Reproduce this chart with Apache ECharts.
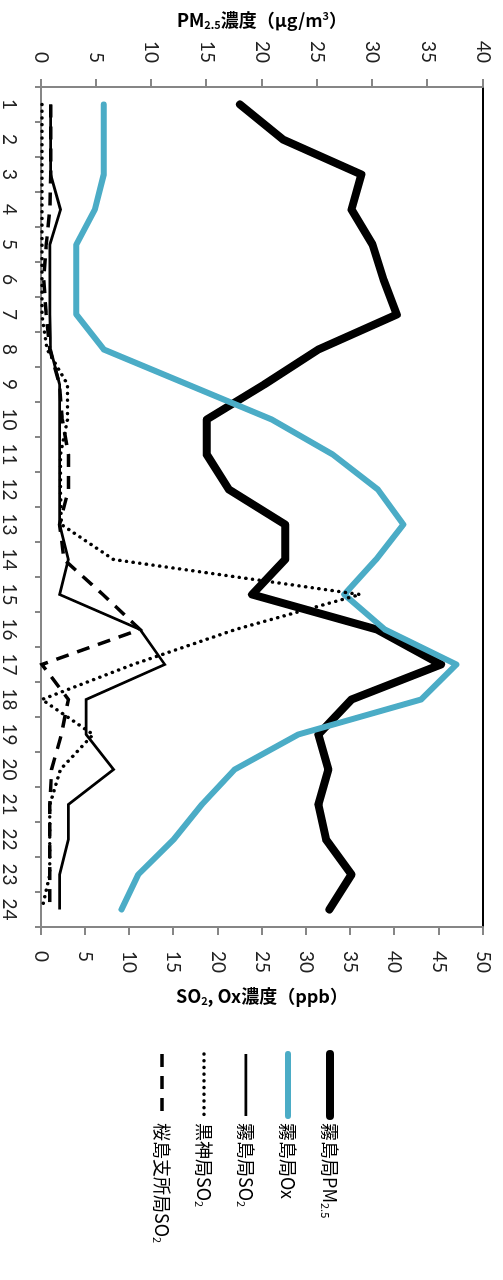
<!DOCTYPE html>
<html>
<head>
<meta charset="utf-8">
<script src="https://cdn.jsdelivr.net/npm/echarts@6/dist/echarts.min.js"></script>
<style>
  html, body { margin: 0; padding: 0; width: 503px; height: 1280px; overflow: hidden; background: #fff; }
  /* chart is laid out landscape (1280 x 503) and turned a quarter-turn clockwise */
  #chart { position: absolute; left: 0; top: 0; width: 1280px; height: 503px;
           transform-origin: 0 0; transform: translate(503px, 0) rotate(90deg); }
</style>
</head>
<body>
<div id="chart"></div>
<script>
// hour of day
const hours = ['1','2','3','4','5','6','7','8','9','10','11','12','13','14','15','16','17','18','19','20','21','22','23','24'];

// 霧島局 PM2.5 (μg/m3)
const kirishimaPM25 = [18.0, 21.9, 29.0, 28.1, 30.0, 31.0, 32.2, 25.1, 20.2, 15.0, 15.0, 17.0, 22.1, 22.1, 19.1, 30.4, 36.2, 28.1, 25.1, 26.0, 25.1, 25.8, 28.1, 26.1];
// 霧島局 Ox (ppb)
const kirishimaOx = [7.1, 7.1, 7.1, 6.1, 4.0, 4.0, 4.0, 7.1, 16.6, 26.1, 33.0, 38.1, 41.0, 37.9, 34.3, 38.9, 47.0, 43.0, 29.1, 21.9, 18.2, 15.0, 11.0, 9.1];
// 霧島局 SO2 (ppb)
const kirishimaSO2 = [1.1, 1.1, 1.1, 2.2, 1.0, 1.0, 1.0, 1.1, 2.1, 2.1, 2.1, 2.1, 2.1, 3.1, 2.1, 11.2, 14.0, 5.1, 5.1, 8.2, 3.1, 3.1, 2.1, 2.1];
// 黒神局 SO2 (ppb)
const kurokamiSO2 = [0.1, 0.1, 0.1, 0.1, 0.1, 0.1, 0.1, 0.7, 3.0, 3.0, 2.2, 2.2, 2.3, 8.2, 36.1, 22.0, 10.4, 0.1, 5.9, 2.2, 1.0, 1.0, 1.0, 0.1];
// 桜島支所局 SO2 (ppb)
const sakurajimaSO2 = [1.1, 1.1, 1.1, 1.0, 0.6, 0.3, 0.6, 1.0, 2.1, 2.4, 3.1, 3.1, 2.1, 2.6, 7.0, 11.2, 0.1, 3.1, 2.3, 1.2, 1.0, 1.0, 1.0, 1.0];

const pmTicks = { min: 0, max: 40, interval: 5 };
const so2Ticks = { min: 0, max: 50, interval: 5 };

const TEAL = '#4BACC6';
const AXIS_GRAY = '#868686';
const CJK = '"Noto Sans CJK JP", "Noto Sans", sans-serif';
const NUM = 'Lato, "Noto Sans", sans-serif';

const chart = echarts.init(document.getElementById('chart'), null, { renderer: 'canvas' });

const subRich = {
  s: { fontSize: 11, fontFamily: CJK, verticalAlign: 'bottom', lineHeight: 14, padding: [8, 0, 0, 0] }
};
const titleRich = {
  t: { fontSize: 18, fontWeight: 'bold', fontFamily: CJK, color: '#000', lineHeight: 24 },
  s: { fontSize: 11, fontWeight: 'bold', fontFamily: CJK, color: '#000', lineHeight: 24, padding: [9, 0, 0, 0] },
  u: { fontSize: 11, fontWeight: 'bold', fontFamily: CJK, color: '#000', lineHeight: 24, padding: [0, 0, 8, 0] }
};

function axisCommon() {
  return {
    axisLine: { show: true, lineStyle: { color: AXIS_GRAY, width: 2 } },
    axisTick: { show: true, inside: false, length: 8, lineStyle: { color: AXIS_GRAY, width: 2 } },
    splitLine: { show: false },
    axisLabel: { fontSize: 19, fontFamily: NUM, color: '#222', margin: 24 }
  };
}

const legendNames = ['霧島局PM2.5', '霧島局Ox', '霧島局SO2', '黒神局SO2', '桜島支所局SO2'];
const legendWidths = [8, 6, 2.75, 3.5, 3.5];

chart.setOption({
  animation: false,
  backgroundColor: '#fff',
  grid: { left: 87, right: 353, top: 20, bottom: 41, show: true, borderColor: '#000', borderWidth: 2 },
  legend: {
    orient: 'vertical',
    left: 1050,
    top: 163,
    padding: 0,
    itemWidth: 62,
    itemHeight: 20,
    itemGap: 22,
    // line-only keys: hide the marker drawn on top of each legend line
    itemStyle: { color: 'rgba(0,0,0,0)', borderWidth: 0, opacity: 0 },
    data: legendNames.map((n, i) => ({ name: n, lineStyle: { width: legendWidths[i] } })),
    formatter: name => name.replace(/PM2\.5$/, 'PM{s|2.5}').replace(/SO2$/, 'SO{s|2}'),
    textStyle: { fontSize: 18, fontFamily: CJK, color: '#000', lineHeight: 20, padding: [0, 0, 0, 2], rich: subRich }
  },
  xAxis: {
    type: 'category',
    data: hours,
    boundaryGap: true,
    axisLine: { show: true, lineStyle: { color: AXIS_GRAY, width: 2 } },
    axisTick: { show: true, inside: false, length: 6, lineStyle: { color: AXIS_GRAY, width: 2 } },
    axisLabel: { fontSize: 19, fontFamily: NUM, color: '#222', margin: 22, interval: 0 },
    splitLine: { show: false }
  },
  yAxis: [
    Object.assign(axisCommon(), {
      type: 'value', position: 'left',
      min: pmTicks.min, max: pmTicks.max, interval: pmTicks.interval,
      name: '{t|PM}{s|2.5}{t|濃度（μg/m}{u|3}{t|）}',
      nameLocation: 'middle', nameRotate: 90, nameGap: 52,
      nameTextStyle: { rich: titleRich }
    }),
    Object.assign(axisCommon(), {
      type: 'value', position: 'right',
      min: so2Ticks.min, max: so2Ticks.max, interval: so2Ticks.interval,
      name: '{t|SO}{s|2}{t|, Ox濃度（ppb）}',
      nameLocation: 'middle', nameRotate: 90, nameGap: 57,
      nameTextStyle: { rich: titleRich }
    })
  ],
  series: [
    {
      name: '霧島局PM2.5', type: 'line', yAxisIndex: 0, data: kirishimaPM25,
      symbol: 'none', lineStyle: { color: '#000', width: 8, cap: 'round', join: 'round' },
      itemStyle: { color: '#000' }
    },
    {
      name: '霧島局Ox', type: 'line', yAxisIndex: 1, data: kirishimaOx,
      symbol: 'none', lineStyle: { color: TEAL, width: 6, cap: 'round', join: 'round' },
      itemStyle: { color: TEAL }
    },
    {
      name: '霧島局SO2', type: 'line', yAxisIndex: 1, data: kirishimaSO2,
      symbol: 'none', lineStyle: { color: '#000', width: 2.75, join: 'miter' },
      itemStyle: { color: '#000' }
    },
    {
      name: '黒神局SO2', type: 'line', yAxisIndex: 1, data: kurokamiSO2,
      symbol: 'none', lineStyle: { color: '#000', width: 3.5, type: [0.1, 6.6], cap: 'round', join: 'round' },
      itemStyle: { color: '#000' }
    },
    {
      name: '桜島支所局SO2', type: 'line', yAxisIndex: 1, data: sakurajimaSO2,
      symbol: 'none', lineStyle: { color: '#000', width: 3.5, type: [13, 9], cap: 'butt', join: 'miter' },
      itemStyle: { color: '#000' }
    }
  ]
});
</script>
</body>
</html>
